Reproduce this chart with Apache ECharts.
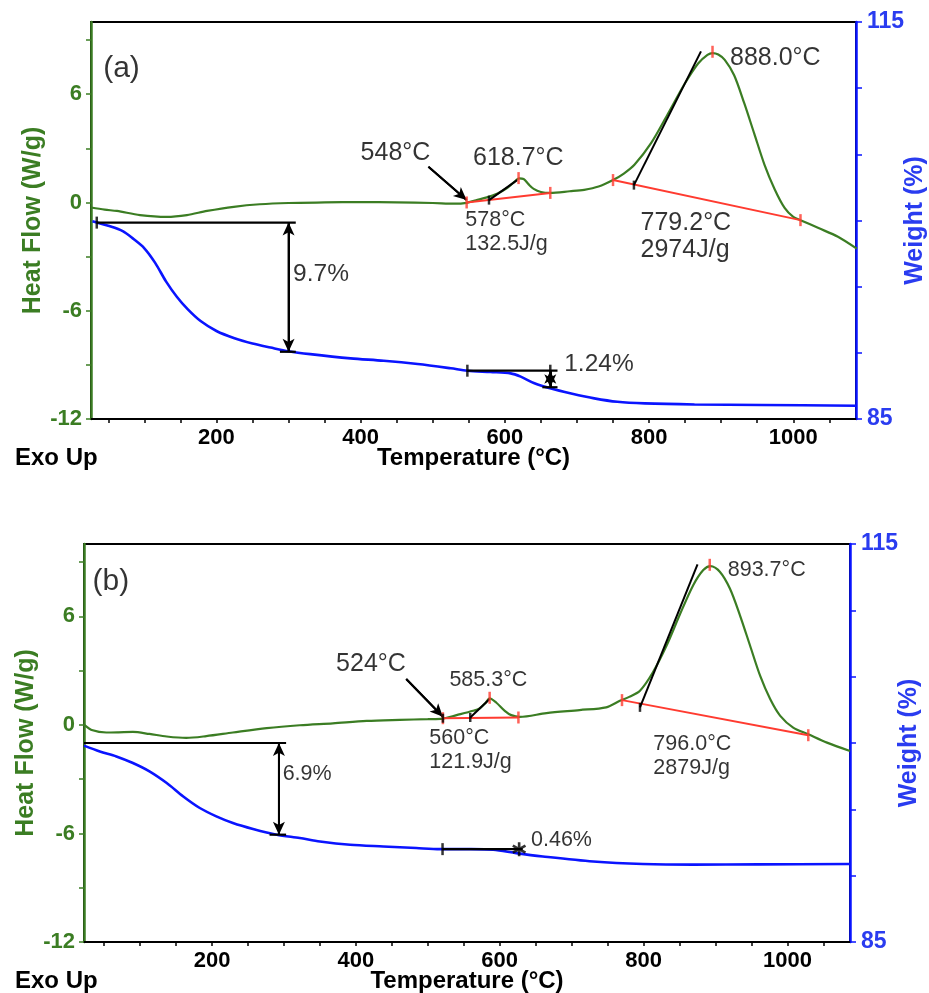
<!DOCTYPE html>
<html><head><meta charset="utf-8">
<script src="https://cdn.jsdelivr.net/npm/echarts@6/dist/echarts.min.js"></script>
<style>html,body{margin:0;padding:0;background:#fff}#c{width:929px;height:993px}</style>
</head><body><div id="c"></div>
<script>
// ---------------- DATA ----------------
// Panel (a) DSC
const TEMP_A_DSC = [26,45,62,94,131,159,187,224,260,300,350,400,450,500,530,547,560,575,590,603,612,620,626,633,640,650,663,690,710,730,750,765,780,803,826,849,868,881,888,896,905,918,932,946,960,974,988,1000,1010,1035,1062,1088];
const HF_A = [-0.28,-0.4,-0.47,-0.7,-0.8,-0.7,-0.47,-0.24,-0.1,-0.03,0.0,0.02,0.0,-0.03,-0.07,-0.02,0.12,0.28,0.5,0.8,1.1,1.33,1.3,1.0,0.75,0.58,0.53,0.62,0.7,0.88,1.24,1.6,2.1,3.3,4.9,6.55,7.7,8.18,8.28,8.2,7.9,7.05,5.5,3.8,2.1,0.75,-0.3,-0.8,-0.98,-1.42,-1.9,-2.56];
// Panel (a) TGA
const TEMP_A_TGA = [28,50,70,85,100,115,130,145,160,178,200,225,250,275,300,330,386,432,479,525,548,580,608,622,641,664,692,724,756,794,863,956,1088];
const WT_A = [99.95,99.6,99.2,98.6,97.9,96.8,95.4,94.24,93.3,92.4,91.65,91.1,90.7,90.4,90.12,89.9,89.58,89.4,89.15,88.83,88.65,88.55,88.45,88.2,87.7,87.3,86.93,86.56,86.3,86.18,86.1,86.06,86.0];
// Panel (b) DSC
const TEMP_B_DSC = [22,34,53,70,90,113,137,164,192,229,276,322,368,415,461,500,521,540,563,572,580,586,595,607,616,628,665,711,748,767,780,795,813,832,850,869,883,893,906,920,934,948,962,976,990,1008,1029,1055,1087];
const HF_B = [0.02,-0.3,-0.42,-0.41,-0.39,-0.5,-0.64,-0.72,-0.62,-0.42,-0.18,-0.02,0.09,0.22,0.28,0.32,0.35,0.54,0.78,0.91,1.2,1.47,1.24,0.78,0.54,0.44,0.65,0.82,0.97,1.33,1.55,1.89,2.91,4.39,6.06,7.72,8.56,8.78,8.47,7.54,6.06,4.39,2.72,1.43,0.5,-0.15,-0.52,-0.98,-1.44];
// Panel (b) TGA
const TEMP_B_TGA = [22,44,67,90,113,137,160,183,206,229,257,290,322,350,392,438,484,517,560,591,623,660,730,799,869,960,1087];
const WT_B = [99.8,99.36,98.99,98.49,97.86,96.98,95.97,95.1,94.47,93.97,93.52,93.09,92.84,92.58,92.33,92.2,92.08,92.0,92.0,91.96,91.7,91.45,91.07,90.88,90.83,90.85,90.88];

// Tick values
const X_TICKS = [50,100,150,200,250,300,350,400,450,500,550,600,650,700,750,800,850,900,950,1000,1050];
const X_LABELS = [200,400,600,800,1000];
const HF_TICKS = [-12,-9,-6,-3,0,3,6,9];
const HF_LABELS = [-12,-6,0,6];
const WT_TICKS = [85,90,95,100,105,110,115];
const WT_LABELS = [85,115];

// Analysis annotations (data units)
const A_BASELINES = [[[547,0.0],[663,0.53]], [[750,1.24],[1010,-0.98]]];
const A_RED_TICKS = [[547,0.0],[619,1.35],[663,0.53],[750,1.24],[888,8.35],[1010,-0.98]];
const A_TANGENTS = [[[578,0.13],[617,1.24]], [[779,0.96],[872,8.37]]];
const A_BLACK_TICKS = [[578,0.13],[779,0.96]];
const A_ONSET_ARROW = [[494,1.98],[547,0.13]];
const A_STEPS = [[[34,99.84],[310,99.84]], [[288,90.08],[310,90.08]], [[548,88.65],[673,88.65]], [[652,87.4],[673,87.4]]];
const A_STEP_ARROWS = [[[300,99.84],[300,90.08]], [[663,88.65],[663,87.4]]];
const A_STEP_TICKS = [[34,99.84],[548,88.65],[663,88.65]];

const B_BASELINES = [[[521,0.37],[626,0.41]], [[770,1.37],[1029,-0.57]]];
const B_RED_TICKS = [[521,0.37],[586,1.5],[626,0.41],[770,1.37],[892,8.85],[1029,-0.57]];
const B_TANGENTS = [[[559,0.41],[586,1.43]], [[795,0.97],[875,8.87]]];
const B_BLACK_TICKS = [[559,0.41],[795,0.97],[521,0.37]];
const B_ONSET_ARROW = [[470,2.54],[521,0.45]];
const B_STEPS = [[[22,100.0],[303,100.0]], [[280,93.09],[303,93.09]], [[520.5,92.0],[632,92.0]]];
const B_STEP_ARROWS = [[[293,100.0],[293,93.09]]];
const B_STEP_TICKS = [[520.5,92.0]];
const B_STARS = [[627,92.0]];

// Text annotations
const A_DSC_TEXT = [
  {t:'(a)', x:69, y:7.4, a:'center', s:30},
  {t:'548°C', x:449, y:2.71, a:'center', s:25},
  {t:'618.7°C', x:619.4, y:2.43, a:'center', s:25},
  {t:'578°C', x:545.8, y:-1.01, a:'left', s:21.5},
  {t:'132.5J/g', x:545.8, y:-2.35, a:'left', s:21.5},
  {t:'779.2°C', x:788.9, y:-1.2, a:'left', s:25},
  {t:'2974J/g', x:788.9, y:-2.69, a:'left', s:25},
  {t:'888.0°C', x:913, y:7.96, a:'left', s:25}
];
const A_TGA_TEXT = [
  {t:'9.7%', x:307, y:95.88, a:'left', s:24.5},
  {t:'1.24%', x:683, y:89.08, a:'left', s:24.5}
];
const B_DSC_TEXT = [
  {t:'(b)', x:60, y:7.87, a:'center', s:30},
  {t:'524°C', x:421.7, y:3.32, a:'center', s:25},
  {t:'585.3°C', x:584.9, y:2.44, a:'center', s:21.5},
  {t:'560°C', x:502.8, y:-0.73, a:'left', s:21.5},
  {t:'121.9J/g', x:502.8, y:-2.07, a:'left', s:21.5},
  {t:'893.7°C', x:917.7, y:8.51, a:'left', s:21.5},
  {t:'796.0°C', x:814.3, y:-1.07, a:'left', s:21.5},
  {t:'2879J/g', x:814.3, y:-2.43, a:'left', s:21.5}
];
const B_TGA_TEXT = [
  {t:'6.9%', x:298.9, y:97.6, a:'left', s:21.5},
  {t:'0.46%', x:644.2, y:92.65, a:'left', s:21.5}
];

// ---------------- STYLE ----------------
const FONT = "'Liberation Sans', Arial, Helvetica, sans-serif";
const GREEN = '#3b7d23';
const BLUE = '#0a14ff';
const BLUE_TXT = '#2a3cf0';
const RED = '#ff3b30';
const BLACK = '#000';

const zip = (xs, ys) => xs.map((x, i) => [x, ys[i]]);

function asteriskPath() {
  let p = '';
  [90, 30, 150].forEach(deg => {
    const t = deg * Math.PI / 180, dx = Math.cos(t), dy = Math.sin(t), nx = -dy, ny = dx;
    const L = 50, W = 9, cx = 50, cy = 50;
    const pts = [[cx + L*dx + W*nx, cy + L*dy + W*ny], [cx + L*dx - W*nx, cy + L*dy - W*ny],
                 [cx - L*dx - W*nx, cy - L*dy - W*ny], [cx - L*dx + W*nx, cy - L*dy + W*ny]];
    p += 'M' + pts.map(q => q[0].toFixed(2) + ' ' + q[1].toFixed(2)).join(' L') + ' Z ';
  });
  return 'path://' + p;
}

const series = [];
function line(g, y, data, color, width, extra) {
  series.push(Object.assign({type:'line', xAxisIndex:g, yAxisIndex:y, data:data, symbol:'none',
    silent:true, lineStyle:{color:color, width:width}, z:3}, extra || {}));
}
function ticks(g, y, pts, color, size) {
  series.push({type:'scatter', xAxisIndex:g, yAxisIndex:y, data:pts, symbol:'rect',
    symbolSize:size || [2.5, 12], itemStyle:{color:color}, silent:true, z:5});
}
function arrow(g, y, seg, both) {
  series.push({type:'line', xAxisIndex:g, yAxisIndex:y, data:seg, symbol:'none', silent:true,
    lineStyle:{color:BLACK, width:2}, z:4,
    markLine:{silent:true, animation:false, symbol: both ? ['arrow','arrow'] : ['none','arrow'],
      symbolSize:[9, 13], label:{show:false}, lineStyle:{color:BLACK, width:2, type:'solid'},
      data:[[{coord:seg[0]}, {coord:seg[1]}]]}});
}
function texts(g, y, items) {
  series.push({type:'scatter', xAxisIndex:g, yAxisIndex:y, symbol:'circle', symbolSize:1,
    itemStyle:{color:'rgba(0,0,0,0)'}, silent:true, z:6,
    data: items.map(it => ({value:[it.x, it.y], label:{formatter:it.t, align:it.a, fontSize:it.s}})),
    label:{show:true, position:[0,0], verticalAlign:'middle', color:'#000', fontFamily:FONT}});
}

// Panel (a): grid 0, yAxis 0 (HF), 1 (WT)
line(0, 0, zip(TEMP_A_DSC, HF_A), GREEN, 2.2, {smooth:0.3});
line(0, 1, zip(TEMP_A_TGA, WT_A), BLUE, 2.6, {smooth:0.3});
A_BASELINES.forEach(s => line(0, 0, s, RED, 2));
A_TANGENTS.forEach(s => line(0, 0, s, BLACK, 2));
ticks(0, 0, A_RED_TICKS, RED);
ticks(0, 0, A_BLACK_TICKS, BLACK, [2.5, 9]);
arrow(0, 0, A_ONSET_ARROW, false);
A_STEPS.forEach(s => line(0, 1, s, BLACK, 2.2));
A_STEP_ARROWS.forEach(s => arrow(0, 1, s, true));
ticks(0, 1, A_STEP_TICKS, BLACK, [2.5, 12]);
texts(0, 0, A_DSC_TEXT);
texts(0, 1, A_TGA_TEXT);

// Panel (b): grid 1, yAxis 2 (HF), 3 (WT)
line(1, 2, zip(TEMP_B_DSC, HF_B), GREEN, 2.2, {smooth:0.3});
line(1, 3, zip(TEMP_B_TGA, WT_B), BLUE, 2.6, {smooth:0.3});
B_BASELINES.forEach(s => line(1, 2, s, RED, 2));
B_TANGENTS.forEach(s => line(1, 2, s, BLACK, 2));
ticks(1, 2, B_RED_TICKS, RED);
ticks(1, 2, B_BLACK_TICKS, BLACK, [2.5, 9]);
arrow(1, 2, B_ONSET_ARROW, false);
B_STEPS.forEach(s => line(1, 3, s, BLACK, 2.2));
B_STEP_ARROWS.forEach(s => arrow(1, 3, s, true));
ticks(1, 3, B_STEP_TICKS, BLACK, [2.5, 12]);
series.push({type:'scatter', xAxisIndex:1, yAxisIndex:3, data:B_STARS, symbol:asteriskPath(),
  symbolSize:14, itemStyle:{color:BLACK}, silent:true, z:6});
texts(1, 2, B_DSC_TEXT);
texts(1, 3, B_TGA_TEXT);

// ---------------- AXES ----------------
const plain = v => String(v);
function xAxis(g, min, max) {
  return {gridIndex:g, type:'value', min:min, max:max,
    axisLine:{show:true, onZero:false, lineStyle:{color:BLACK, width:2}},
    axisTick:{show:true, length:4, customValues:X_TICKS, lineStyle:{color:BLACK, width:1.5}},
    axisLabel:{customValues:X_LABELS, formatter:plain, fontSize:22, fontWeight:'bold', color:BLACK, margin:8, fontFamily:FONT},
    splitLine:{show:false},
    name:'Temperature (°C)', nameLocation:'middle', nameGap:27, nameMoveOverlap:false,
    nameTextStyle:{fontSize:24, fontWeight:'bold', color:BLACK, fontFamily:FONT}};
}
function hfAxis(g) {
  return {gridIndex:g, type:'value', position:'left', min:-12, max:10,
    axisLine:{show:true, onZero:false, lineStyle:{color:GREEN, width:2.5}},
    axisTick:{show:true, length:5, customValues:HF_TICKS, lineStyle:{color:GREEN, width:1.5}},
    axisLabel:{customValues:HF_LABELS, formatter:plain, fontSize:22, fontWeight:'bold', color:GREEN, margin:9, fontFamily:FONT},
    splitLine:{show:false},
    name:'Heat Flow (W/g)', nameLocation:'middle', nameRotate:90, nameGap:45, nameMoveOverlap:false,
    nameTextStyle:{fontSize:25, fontWeight:'bold', color:GREEN, fontFamily:FONT}};
}
function wtAxis(g) {
  return {gridIndex:g, type:'value', position:'right', min:85, max:115,
    axisLine:{show:true, onZero:false, lineStyle:{color:BLUE, width:2.5}},
    axisTick:{show:true, length:6, customValues:WT_TICKS, lineStyle:{color:BLUE, width:1.5}},
    axisLabel:{customValues:WT_LABELS, formatter:plain, fontSize:23, fontWeight:'bold', color:BLUE_TXT, margin:11, fontFamily:FONT},
    splitLine:{show:false},
    name:'Weight (%)', nameLocation:'middle', nameRotate:90, nameGap:47, nameMoveOverlap:false,
    nameTextStyle:{fontSize:25, fontWeight:'bold', color:BLUE_TXT, fontFamily:FONT}};
}

const option = {
  animation:false,
  backgroundColor:'#fff',
  grid:[
    {left:91, top:22, width:765, height:397, outerBoundsMode:'none', containLabel:false, show:true, borderColor:BLACK, borderWidth:2, backgroundColor:'transparent'},
    {left:84, top:544, width:766, height:398, outerBoundsMode:'none', containLabel:false, show:true, borderColor:BLACK, borderWidth:2, backgroundColor:'transparent'}
  ],
  xAxis:[xAxis(0, 26, 1087), xAxis(1, 22, 1087)],
  yAxis:[hfAxis(0), wtAxis(0), hfAxis(1), wtAxis(1)],
  graphic:[
    {type:'text', left:15, top:446, style:{text:'Exo Up', font:"bold 24px " + FONT, fill:BLACK}},
    {type:'text', left:15, top:969, style:{text:'Exo Up', font:"bold 24px " + FONT, fill:BLACK}}
  ],
  series:series
};

const chart = echarts.init(document.getElementById('c'), null, {renderer:'canvas'});
chart.setOption(option);
</script></body></html>
